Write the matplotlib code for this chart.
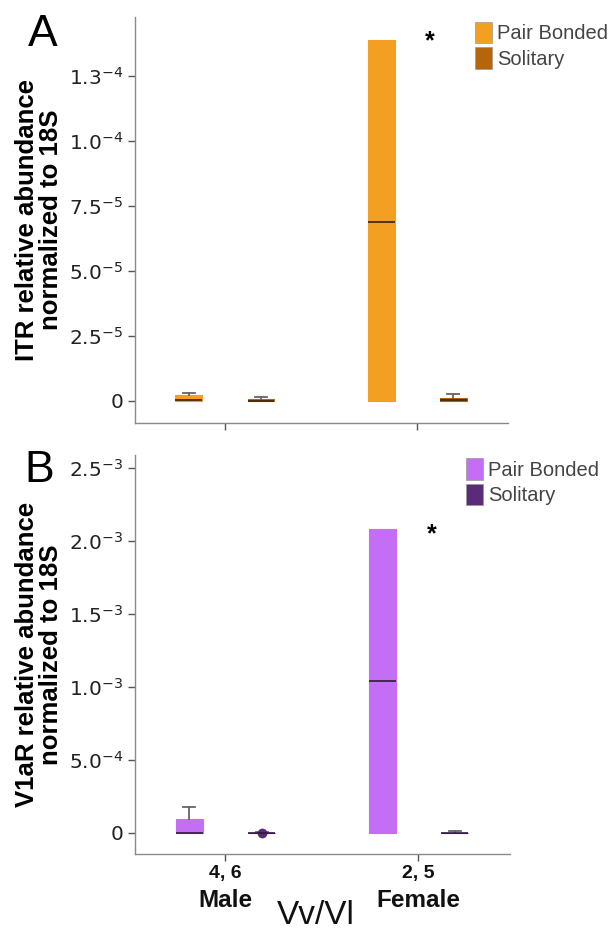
import numpy as np
import matplotlib.pyplot as plt
import matplotlib.transforms as mtransforms
from matplotlib.patches import Patch

# grupos y series
groups = ['Male', 'Female']
group_n = ['4, 6', '2, 5']
series = ['Pair Bonded', 'Solitary']

# ITR (panel A): q1, mediana, q3, bigote superior
itr_q1 = [[0, 0], [0, 0]]
itr_med = [[3e-7, 1e-7], [6.9e-5, 2e-7]]
itr_q3 = [[2.3e-6, 0.8e-6], [1.39e-4, 1.2e-6]]
itr_whi = [[3.2e-6, 1.5e-6], [1.39e-4, 2.7e-6]]

# V1aR (panel B)
v1a_q1 = [[0, 0], [0, 0]]
v1a_med = [[2e-6, 0], [1.04e-3, 0]]
v1a_q3 = [[9.6e-5, 2e-6], [2.08e-3, 3e-6]]
v1a_whi = [[1.78e-4, 4e-6], [2.08e-3, 1.2e-5]]
v1a_fliers = [[[], [0.0]], [[], []]]

itr_ticks = [0, 2.5e-5, 5.0e-5, 7.5e-5, 1.0e-4, 1.25e-4]
itr_ticklabels = ['0', r'$\mathregular{2.5^{-5}}$', r'$\mathregular{5.0^{-5}}$',
                  r'$\mathregular{7.5^{-5}}$', r'$\mathregular{1.0^{-4}}$', r'$\mathregular{1.3^{-4}}$']
v1a_ticks = [0, 5e-4, 1e-3, 1.5e-3, 2e-3, 2.5e-3]
v1a_ticklabels = ['0', r'$\mathregular{5.0^{-4}}$', r'$\mathregular{1.0^{-3}}$',
                  r'$\mathregular{1.5^{-3}}$', r'$\mathregular{2.0^{-3}}$', r'$\mathregular{2.5^{-3}}$']

plt.rcParams['font.family'] = ['Liberation Sans', 'DejaVu Sans']

fig = plt.figure(figsize=(6.13, 9.31), dpi=100)
axA = fig.add_axes([0.220, 0.5457, 0.609, 0.436])
axB = fig.add_axes([0.220, 0.0827, 0.612, 0.4286])

offset = 0.1875
width = 0.14


def draw_panel(ax, q1, med, q3, whi, colors, medcolor, fliers=None):
    for gi in range(len(groups)):
        for si in range(len(series)):
            st = {'q1': q1[gi][si], 'med': med[gi][si], 'q3': q3[gi][si],
                  'whislo': q1[gi][si], 'whishi': whi[gi][si],
                  'fliers': fliers[gi][si] if fliers else []}
            pos = gi + (-offset if si == 0 else offset)
            bp = ax.bxp([st], positions=[pos], widths=width, patch_artist=True,
                        showfliers=True,
                        boxprops=dict(facecolor=colors[si], edgecolor=colors[si], linewidth=0.8),
                        medianprops=dict(color=medcolor, linewidth=1.2),
                        whiskerprops=dict(color='#666666', linewidth=1.3),
                        capprops=dict(color='#666666', linewidth=1.3),
                        capwidths=width * 0.45,
                        flierprops=dict(marker='o', markersize=6, markerfacecolor=colors[1],
                                        markeredgecolor=colors[1]))
            # sin bigote inferior; sin tapa si el bigote no sale de la caja
            bp['caps'][0].set_visible(False)
            if whi[gi][si] <= q3[gi][si]:
                bp['caps'][1].set_visible(False)


def style_axes(ax, ticks, ticklabels, ylim):
    ax.set_xlim(-0.469, 1.474)
    ax.set_ylim(*ylim)
    for s in ['top', 'right']:
        ax.spines[s].set_visible(False)
    for s in ['left', 'bottom']:
        ax.spines[s].set_color('#8a8a8a')
        ax.spines[s].set_linewidth(1.0)
    ax.set_yticks(ticks)
    ax.set_yticklabels(ticklabels, fontsize=14.5, color='#222222', family='DejaVu Sans')
    ax.set_xticks([0, 1])
    ax.set_xticklabels(['', ''])
    ax.tick_params(axis='both', color='#555555', length=5, width=1)


# Panel A
orange = ['#f29f22', '#b5660c']
draw_panel(axA, itr_q1, itr_med, itr_q3, itr_whi, orange, '#3a2208')
style_axes(axA, itr_ticks, itr_ticklabels, (-8.46e-6, 1.477e-4))
axA.set_ylabel('ITR relative abundance\nnormalized to 18S', fontsize=18.5,
               fontweight='bold', labelpad=4, linespacing=1.0)
axA.text(1.068, 1.43e-4, '*', fontsize=18, fontweight='bold', ha='center', va='top')
fig.legend(handles=[Patch(facecolor=c, edgecolor='#999999', linewidth=0.5) for c in orange],
           labels=series, loc='upper left', bbox_to_anchor=(0.745, 0.996),
           frameon=False, fontsize=14.5, handlelength=0.85, handleheight=1.25,
           handletextpad=0.25, labelspacing=0.2, labelcolor='#444444')
fig.text(0.045, 0.985, 'A', fontsize=32, va='top', ha='left')

# Panel B
purple = ['#c36ef5', '#5a2b78']
draw_panel(axB, v1a_q1, v1a_med, v1a_q3, v1a_whi, purple, '#2e1a3a', v1a_fliers)
style_axes(axB, v1a_ticks, v1a_ticklabels, (-1.44e-4, 2.589e-3))
axB.set_ylabel('V1aR relative abundance\nnormalized to 18S', fontsize=18.5,
               fontweight='bold', labelpad=4, linespacing=1.0)
axB.text(1.068, 2.13e-3, '*', fontsize=18, fontweight='bold', ha='center', va='top')
fig.legend(handles=[Patch(facecolor=c, edgecolor='#999999', linewidth=0.5) for c in purple],
           labels=series, loc='upper left', bbox_to_anchor=(0.73, 0.527),
           frameon=False, fontsize=14.5, handlelength=0.85, handleheight=1.25,
           handletextpad=0.25, labelspacing=0.2, labelcolor='#444444')
fig.text(0.04, 0.517, 'B', fontsize=32, va='top', ha='left')

trans = mtransforms.blended_transform_factory(axB.transData, axB.transAxes)
for gi, g in enumerate(groups):
    axB.text(gi, -0.048, group_n[gi], transform=trans, ha='center', va='center',
             fontsize=14, fontweight='bold', color='#111111')
    axB.text(gi, -0.117, g, transform=trans, ha='center', va='center',
             fontsize=17.5, fontweight='bold', color='#111111')
fig.text(0.515, 0.008, 'Vv/Vl', fontsize=24, ha='center', va='baseline', color='#111111')

fig.savefig('out.png', dpi=100)
